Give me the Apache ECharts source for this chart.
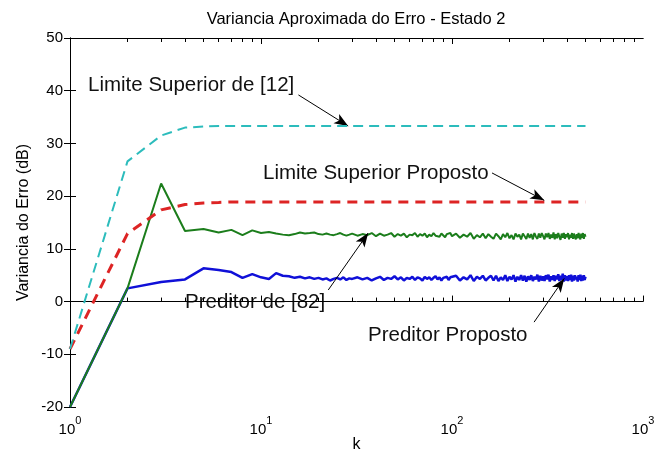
<!DOCTYPE html>
<html>
<head>
<meta charset="utf-8">
<script src="https://cdn.jsdelivr.net/npm/echarts@6/dist/echarts.min.js"></script>
<style>
  html, body { margin: 0; padding: 0; background: #fff; }
  #chart { width: 654px; height: 464px; }
</style>
</head>
<body>
<div id="chart"></div>
<script>
// Bound curves: sampled at the first iterations, then constant up to k = 500
const kBound = [1, 2, 3, 4, 5, 6, 7, 8, 9, 10, 500];
const limiteSuperior12 = [-9, 26.6, 31.5, 33.0, 33.2, 33.3, 33.3, 33.3, 33.3, 33.3, 33.3];
const limiteSuperiorProposto = [-9, 12.9, 17.4, 18.4, 18.7, 18.8, 18.9, 18.9, 18.9, 18.9, 18.9];

// Predictor curves (dB) at these iterations k
const kSamples = [
  1, 2, 3, 4, 5, 6, 7, 8, 9, 10,
  11, 12, 13, 14, 15, 16, 17, 18, 19, 20,
  21, 22, 23, 24, 25, 26, 27, 28, 29, 30,
  32, 34, 36, 38, 40, 42, 44, 46, 48, 50,
  52, 54, 56, 58, 60, 62, 64, 66, 68, 70,
  72, 74, 76, 78, 80, 82, 84, 86, 88, 90,
  92, 94, 96, 98, 100,
  105, 110, 115, 120, 125, 130, 135, 140, 145, 150,
  155, 160, 165, 170, 175, 180, 185, 190, 195, 200,
  205, 210, 215, 220, 225, 230, 235, 240, 245, 250,
  255, 260, 265, 270, 275, 280, 285, 290, 295, 300,
  305, 310, 315, 320, 325, 330, 335, 340, 345, 350,
  355, 360, 365, 370, 375, 380, 385, 390, 395, 400,
  405, 410, 415, 420, 425, 430, 435, 440, 445, 450,
  455, 460, 465, 470, 475, 480, 485, 490, 495, 500
];
const preditor82 = [
  -20, 2.5, 22.4, 13.4, 13.75, 13.1, 13.6, 12.6, 13.5, 13.0,
  13.2, 12.9, 12.7, 12.6, 12.8, 13.1, 12.9, 13.0, 13.1, 12.8,
  12.7, 12.9, 12.7, 12.6, 12.8, 13.0, 12.7, 12.5, 12.7, 12.9,
  12.5, 12.8, 12.6, 13.0, 12.4, 12.9, 12.5, 12.7, 13.0, 12.3,
  12.8, 12.5, 12.9, 12.2, 12.7, 12.6, 13.0, 12.3, 12.8, 12.5,
  12.9, 12.2, 12.7, 12.4, 13.0, 12.5, 12.8, 12.3, 12.9, 12.6,
  12.2, 12.8, 12.5, 13.0, 12.4,
  12.9, 12.1, 12.7, 12.3, 13.0, 11.9, 12.6, 12.2, 12.9, 12.0,
  12.8, 12.3, 11.9, 12.9, 12.4, 11.8, 12.8, 12.2, 13.0, 12.0,
  12.6, 11.8, 12.9, 12.3, 12.7, 11.8, 12.9, 12.4, 11.9, 12.9,
  12.1, 12.8, 11.8, 13.0, 12.3, 11.9, 12.9, 12.1, 13.0, 12.4,
  11.8, 12.9, 12.2, 13.0, 11.9, 12.7, 12.1, 13.1, 11.8, 12.8,
  12.0, 13.0, 12.3, 11.7, 12.9, 12.1, 13.0, 11.9, 12.8, 12.2,
  13.0, 11.8, 12.7, 12.1, 13.0, 11.9, 12.9, 12.2, 11.8, 12.8,
  12.0, 13.0, 12.3, 11.8, 12.9, 12.1, 13.0, 11.9, 12.8, 12.3
];
const preditorProposto = [
  -20, 2.5, 3.7, 4.2, 6.3, 6.0, 5.6, 4.5, 5.2, 4.6,
  4.3, 5.4, 4.9, 4.8, 4.5, 4.7, 4.4, 4.6, 4.3, 4.5,
  4.2, 4.4, 4.0, 4.3, 4.5, 4.2, 4.6, 4.1, 4.4, 4.3,
  4.6, 4.2, 4.5, 4.0, 4.4, 4.7, 4.1, 4.5, 4.3, 4.8,
  4.2, 4.6, 4.0, 4.5, 4.3, 4.7, 4.1, 4.6, 4.4, 4.0,
  4.7, 4.3, 4.6, 4.1, 4.5, 4.8, 4.2, 4.6, 4.0, 4.5,
  4.3, 4.7, 4.1, 4.6, 4.4,
  4.9, 4.0, 4.6, 4.2, 5.0, 3.9, 4.7, 4.3, 4.9, 4.0,
  4.5, 4.9, 4.0, 4.9, 3.9, 4.6, 4.1, 5.0, 3.9, 4.7,
  4.2, 5.0, 3.8, 4.7, 4.1, 5.0, 4.0, 4.9, 3.8, 4.8,
  4.1, 5.0, 3.9, 4.7, 4.2, 5.1, 3.8, 4.9, 4.0, 4.8,
  3.9, 5.0, 4.2, 5.1, 3.8, 4.8, 4.1, 5.0, 3.9, 4.9,
  4.2, 5.2, 3.9, 4.9, 4.1, 5.3, 3.8, 5.0, 4.0, 4.8,
  3.9, 5.0, 4.1, 5.1, 3.8, 4.9, 4.0, 5.0, 4.2, 4.7,
  3.8, 5.0, 4.1, 5.1, 3.9, 4.9, 4.0, 5.0, 4.1, 4.7
];

// Axis ticks
const xTickExponents = [0, 1, 2, 3];
const yTickValues = [-20, -10, 0, 10, 20, 30, 40, 50];

// Annotation arrows, [tail, head] in data units (k, dB)
const arrowLimite12 = [[15.7, 39.2], [28.6, 33.3]];
const arrowLimiteProposto = [[162, 24.4], [304, 19.2]];
const arrowPreditor82 = [[22.5, 2.2], [36.4, 13.0]];
const arrowPreditorProposto = [[269, -3.9], [387, 4.4]];

const FONT = '"Liberation Sans", Arial, Helvetica, sans-serif';
const zip = (xs, ys) => xs.map((x, i) => [x, ys[i]]);

const xMin = Math.pow(10, xTickExponents[0]);
const xMax = Math.pow(10, xTickExponents[xTickExponents.length - 1]);
const decades = xTickExponents[xTickExponents.length - 1] - xTickExponents[0];

// minor tick positions (log10 units) for the decoration axes
const minorLog = [];
for (let d = 0; d < decades; d++) {
  for (let n = 2; n <= 9; n++) minorLog.push(d + Math.log10(n));
}
const innerMajorLog = xTickExponents.slice(1, -1).map(e => e - xTickExponents[0]);

function decoAxis(position, values, len) {
  return {
    type: 'value', position: position, min: 0, max: decades,
    axisLine: { show: position === 'top', lineStyle: { color: '#000', width: 1 } },
    axisTick: { show: true, inside: true, length: len, customValues: values,
                lineStyle: { color: '#000', width: 1 } },
    axisLabel: { show: false }, splitLine: { show: false }
  };
}

function arrowLine(pair) {
  return [
    { coord: pair[0], symbol: 'none' },
    { coord: pair[1], symbol: 'arrow', symbolSize: [8, 14] }
  ];
}

const chart = echarts.init(document.getElementById('chart'), null, { renderer: 'canvas' });

chart.setOption({
  animation: false,
  backgroundColor: '#fff',
  textStyle: { fontFamily: FONT },
  grid: { left: 70, right: 11, top: 38, bottom: 57, containLabel: false, outerBoundsMode: 'none' },
  xAxis: [
    {
      type: 'log', logBase: 10, min: xMin, max: xMax, position: 'bottom',
      name: 'k', nameLocation: 'middle', nameGap: 30, nameMoveOverlap: false,
      nameTextStyle: { color: '#000', fontSize: 16, fontFamily: FONT },
      axisLine: { show: true, lineStyle: { color: '#000', width: 1 } },
      axisTick: { show: true, inside: true, length: 6, lineStyle: { color: '#000', width: 1 } },
      splitLine: { show: false },
      minorTick: { show: false },
      axisLabel: {
        margin: 8, color: '#000', fontFamily: FONT,
        formatter: v => '{b|10}{s|' + Math.round(Math.log10(v)) + '}',
        rich: {
          b: { fontSize: 15, lineHeight: 22, verticalAlign: 'bottom', color: '#000', fontFamily: FONT },
          s: { fontSize: 11, lineHeight: 11, verticalAlign: 'top', color: '#000', fontFamily: FONT }
        }
      }
    },
    decoAxis('bottom', minorLog, 4),
    decoAxis('top', innerMajorLog, 6),
    decoAxis('top', minorLog, 4)
  ],
  yAxis: [
    {
      type: 'value', position: 'left',
      min: yTickValues[0], max: yTickValues[yTickValues.length - 1],
      interval: yTickValues[1] - yTickValues[0],
      name: 'Variancia do Erro (dB)', nameLocation: 'middle', nameGap: 38, nameMoveOverlap: false,
      nameTextStyle: { color: '#000', fontSize: 16, fontFamily: FONT },
      axisLine: { show: true, lineStyle: { color: '#000', width: 1 } },
      axisTick: { show: true, inside: true, length: 6, lineStyle: { color: '#000', width: 1 } },
      axisLabel: { color: '#000', fontSize: 15, margin: 7, fontFamily: FONT },
      splitLine: { show: false }
    },
    {
      type: 'value', position: 'right',
      min: yTickValues[0], max: yTickValues[yTickValues.length - 1],
      interval: yTickValues[1] - yTickValues[0],
      axisLine: { show: true, lineStyle: { color: '#000', width: 1 } },
      axisTick: { show: true, inside: true, length: 6, lineStyle: { color: '#000', width: 1 } },
      axisLabel: { show: false },
      splitLine: { show: false }
    }
  ],
  series: [
    {
      name: 'Preditor Proposto', type: 'line', showSymbol: false, symbol: 'none',
      data: zip(kSamples, preditorProposto),
      lineStyle: { color: '#1010d8', width: 2.5 }, itemStyle: { color: '#1010d8' },
      z: 2
    },
    {
      name: 'Preditor de [82]', type: 'line', showSymbol: false, symbol: 'none',
      data: zip(kSamples, preditor82),
      lineStyle: { color: '#1b7d1b', width: 2 }, itemStyle: { color: '#1b7d1b' },
      z: 3
    },
    {
      name: 'Limite Superior Proposto', type: 'line', showSymbol: false, symbol: 'none',
      data: zip(kBound, limiteSuperiorProposto),
      lineStyle: { color: '#dd2424', width: 3, type: [10, 7] }, itemStyle: { color: '#dd2424' },
      z: 4
    },
    {
      name: 'Limite Superior de [12]', type: 'line', showSymbol: false, symbol: 'none',
      data: zip(kBound, limiteSuperior12),
      lineStyle: { color: '#2cbcbc', width: 2, type: [10, 6] }, itemStyle: { color: '#2cbcbc' },
      z: 5,
      markLine: {
        silent: true, animation: false,
        symbol: ['none', 'arrow'],
        label: { show: false },
        lineStyle: { color: '#000', width: 1, type: 'solid' },
        emphasis: { disabled: true },
        data: [
          arrowLine(arrowLimite12),
          arrowLine(arrowLimiteProposto),
          arrowLine(arrowPreditor82),
          arrowLine(arrowPreditorProposto)
        ]
      }
    }
  ],
  graphic: [
    { type: 'text', x: 356, y: 19, silent: true,
      style: { text: 'Variancia Aproximada do Erro - Estado 2', font: '16.5px ' + FONT, fill: '#000',
               align: 'center', textAlign: 'center', verticalAlign: 'middle', textVerticalAlign: 'middle' } },
    { type: 'text', x: 88, y: 85, silent: true,
      style: { text: 'Limite Superior de [12]', font: '20.5px ' + FONT, fill: '#111',
               align: 'left', verticalAlign: 'middle', textVerticalAlign: 'middle' } },
    { type: 'text', x: 263, y: 173, silent: true,
      style: { text: 'Limite Superior Proposto', font: '20.5px ' + FONT, fill: '#111',
               align: 'left', verticalAlign: 'middle', textVerticalAlign: 'middle' } },
    { type: 'text', x: 185, y: 302, silent: true,
      style: { text: 'Preditor de [82]', font: '20.5px ' + FONT, fill: '#111',
               align: 'left', verticalAlign: 'middle', textVerticalAlign: 'middle' } },
    { type: 'text', x: 368, y: 335, silent: true,
      style: { text: 'Preditor Proposto', font: '20.5px ' + FONT, fill: '#111',
               align: 'left', verticalAlign: 'middle', textVerticalAlign: 'middle' } }
  ]
});
</script>
</body>
</html>
